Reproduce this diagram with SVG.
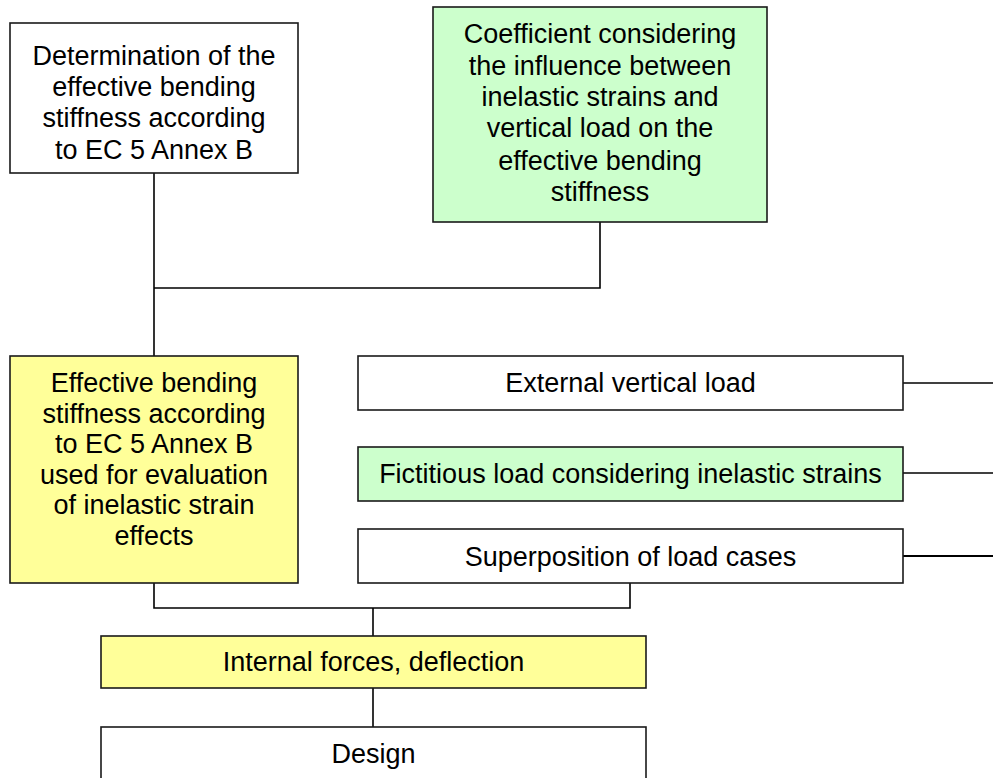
<svg xmlns="http://www.w3.org/2000/svg" width="993" height="778" viewBox="0 0 993 778">
<style>
.box{stroke:#1a1a1a;stroke-width:1.6}
.w{fill:#ffffff}
.y{fill:#ffff99}
.g{fill:#ccffcc}
.c{fill:none;stroke:#000;stroke-width:1.6}
text{font-family:"Liberation Sans",Arial,sans-serif;font-size:27px;fill:#000;text-anchor:middle}
</style>
<rect width="993" height="778" fill="#ffffff"/>
<g id="connectors">
<path class="c" d="M154 173V356"/>
<path class="c" d="M154 288H600V222"/>
<path class="c" d="M154 583V608H630V583"/>
<path class="c" d="M373 608V636"/>
<path class="c" d="M373 688V727"/>
<path class="c" d="M903 383H993"/>
<path class="c" d="M903 473H993"/>
<path class="c" d="M903 556H993" style="stroke-width:2.2"/>
</g>
<g id="n1">
<rect class="box w" x="10" y="23" width="288" height="150"/>
<text x="154" y="65">Determination of the</text>
<text x="154" y="96">effective bending</text>
<text x="154" y="127">stiffness according</text>
<text x="154" y="159">to EC 5 Annex B</text>
</g>
<g id="n2">
<rect class="box g" x="433" y="7" width="334" height="215"/>
<text x="600" y="43">Coefficient considering</text>
<text x="600" y="75">the influence between</text>
<text x="600" y="106">inelastic strains and</text>
<text x="600" y="137">vertical load on the</text>
<text x="600" y="170">effective bending</text>
<text x="600" y="201">stiffness</text>
</g>
<g id="n3">
<rect class="box y" x="10" y="356" width="288" height="227"/>
<text x="154" y="392">Effective bending</text>
<text x="154" y="423">stiffness according</text>
<text x="154" y="453">to EC 5 Annex B</text>
<text x="154" y="484">used for evaluation</text>
<text x="154" y="514">of inelastic strain</text>
<text x="154" y="545">effects</text>
</g>
<g id="n4">
<rect class="box w" x="358" y="356" width="545" height="54"/>
<text x="630.5" y="392">External vertical load</text>
</g>
<g id="n5">
<rect class="box g" x="358" y="447" width="545" height="54"/>
<text x="630.5" y="483">Fictitious load considering inelastic strains</text>
</g>
<g id="n6">
<rect class="box w" x="358" y="529" width="545" height="54"/>
<text x="630.5" y="566">Superposition of load cases</text>
</g>
<g id="n7">
<rect class="box y" x="101" y="636" width="545" height="52"/>
<text x="373.5" y="671">Internal forces, deflection</text>
</g>
<g id="n8">
<rect class="box w" x="101" y="727" width="545" height="70"/>
<text x="373.5" y="763">Design</text>
</g>
</svg>
